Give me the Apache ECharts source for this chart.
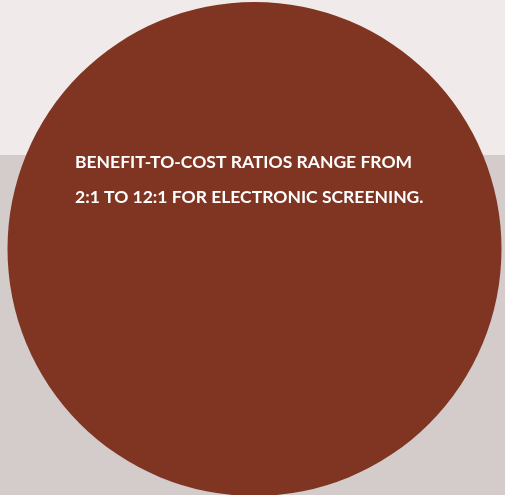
<!DOCTYPE html>
<html>
<head>
<meta charset="utf-8">
<script src="https://cdn.jsdelivr.net/npm/echarts@6/dist/echarts.min.js"></script>
<style>
  html, body { margin: 0; padding: 0; }
  #chart { width: 505px; height: 495px; }
</style>
</head>
<body>
<div id="chart"></div>
<script>
// one full circle, the headline as text
const sliceNames = ['screening']
const sliceValues = [1]
const headline = [
  'BENEFIT-TO-COST RATIOS RANGE FROM',
  '2:1 TO 12:1 FOR ELECTRONIC SCREENING.'
]

const chart = echarts.init(document.getElementById('chart'))
const option = {
  animation: false,
  backgroundColor: '#d3cccb',
  graphic: [
    {
      type: 'rect',
      z: -10,
      shape: { x: 0, y: 0, width: 505, height: 155 },
      style: { fill: '#f1eaea' }
    }
  ],
  title: {
    text: headline.join('\n'),
    left: 75,
    top: 145,
    padding: 0,
    textStyle: {
      color: '#ffffff',
      fontFamily: 'Lato',
      fontWeight: 'bold',
      fontSize: 17.5,
      lineHeight: 35
    }
  },
  series: [
    {
      type: 'pie',
      center: [254.5, 249],
      radius: [0, 247],
      silent: true,
      label: { show: false },
      labelLine: { show: false },
      itemStyle: { color: '#7f3521' },
      data: sliceNames.map((n, i) => ({ name: n, value: sliceValues[i] }))
    }
  ]
}
chart.setOption(option)
</script>
</body>
</html>
